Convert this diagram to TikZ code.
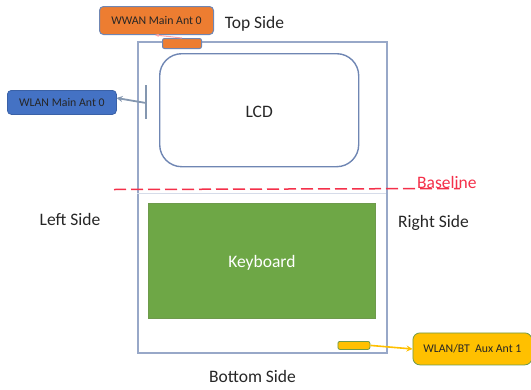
\documentclass[tikz,border=0pt]{standalone}
\usepackage{fontspec}
\setmainfont{Carlito}
\usetikzlibrary{arrows.meta}
\definecolor{frameblue}{HTML}{98A8C8}
\definecolor{lcdblue}{HTML}{6F86B3}
\definecolor{conn}{HTML}{8497B0}
\definecolor{orangefill}{HTML}{ED7D31}
\definecolor{bluefill}{HTML}{4472C4}
\definecolor{goldfill}{HTML}{FFC000}
\definecolor{kbgreen}{HTML}{6EA746}
\definecolor{kbedge}{HTML}{6E9A4C}
\definecolor{basered}{HTML}{F4304A}
\tikzset{
  x=1pt,y=-1pt,
  box/.style={draw,rounded corners=#1,inner sep=0pt,anchor=north west},
  box/.default=4pt,
  lab/.style={font=\fontsize{17.5}{20}\selectfont,text=black!85,inner sep=0pt},
  small/.style={font=\fontsize{11.8}{14}\selectfont,text=black!85},
}
\begin{document}
\begin{tikzpicture}
\useasboundingbox (0,0) rectangle (531,389);
% body
\node[draw=frameblue,line width=1.6pt,minimum width=249pt,minimum height=311pt,inner sep=0pt,anchor=north west] (body) at (137,41) {};
\coordinate (divL) at (137,193);
\coordinate (divR) at (386,193);
\draw[frameblue!40,line width=1pt] (divL) -- (divR);
\node[box=22pt,draw=lcdblue,line width=1.4pt,minimum width=199pt,minimum height=113pt,lab] (lcd) at (159,53) {\raisebox{-2pt}[\height][\depth]{LCD}};
\node[draw=kbedge,fill=kbgreen,line width=.8pt,minimum width=227pt,minimum height=115pt,inner sep=0pt,anchor=north west,lab,text=white] (kb) at (148,203) {\raisebox{-2pt}[\height][\depth]{Keyboard}};
% baseline
\coordinate (bl1) at (114,189.5);
\coordinate (bl2) at (460,188.5);
\draw[basered,line width=1.5pt,dash pattern=on 12pt off 5pt] (bl1) -- (bl2);
\node[lab,text=basered,anchor=south west] (baseline) at (417,189) {Baseline};
% labels
\node[lab] (top) at (254.5,24) {Top Side};
\node[lab] (left) at (70,219.5) {Left Side};
\node[lab] (right) at (433.5,222.5) {Right Side};
\node[lab] (bottom) at (252.5,376.5) {Bottom Side};
% WWAN
\node[box,draw=lcdblue,fill=orangefill,line width=1pt,minimum width=114pt,minimum height=28pt,small] (wwan) at (99,6) {WWAN Main Ant 0};
\node[box=2pt,draw=lcdblue,fill=orangefill,line width=1pt,minimum width=39pt,minimum height=10pt] (wwanant) at (162,38) {};
\draw[-{Stealth[length=4pt]},red!35,line width=1pt] (wwanant.north) -- (wwan.south-|155,0);
% WLAN
\node[box,draw=bluefill!85!black,fill=bluefill,line width=.8pt,minimum width=109pt,minimum height=24pt,small] (wlan) at (7,90) {WLAN Main Ant 0};
\coordinate (t1) at (146,85);
\coordinate (t2) at (146,119);
\coordinate (tm) at (146,103);
\draw[conn,line width=1.8pt] (t1) -- (t2);
\draw[-{Stealth[length=6pt,width=6pt]},conn,line width=1.8pt] (tm) -- (116.5,98);
% Aux
\node[box=2pt,draw=kbedge,fill=goldfill,line width=.8pt,minimum width=32pt,minimum height=8pt] (auxant) at (337.5,341) {};
\node[box=7pt,draw=kbedge,fill=goldfill,line width=.8pt,minimum width=119pt,minimum height=32pt,small] (aux) at (412.5,332.5) {WLAN/BT\ \ Aux Ant 1};
\draw[-{Stealth[length=6pt,width=6pt]},goldfill,line width=1.6pt] (auxant.east) -- (aux.west|-0,349);
\end{tikzpicture}
\end{document}
